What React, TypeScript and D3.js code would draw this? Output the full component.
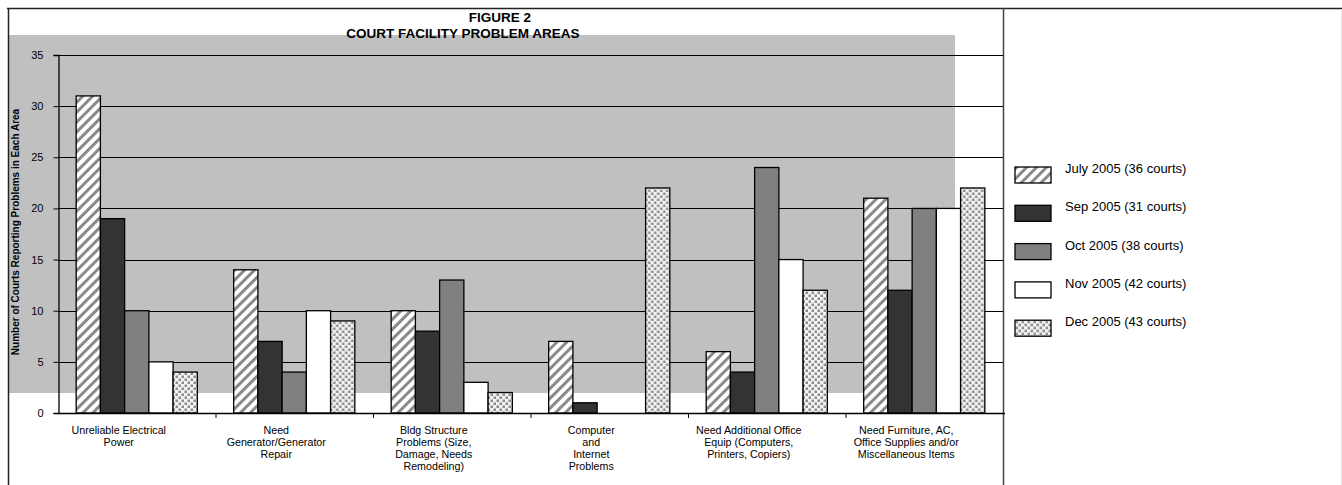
import React, { useEffect, useRef } from "react";
import * as d3 from "d3";

// chart values
const categories = [
  "Unreliable Electrical Power",
  "Need Generator/Generator Repair",
  "Bldg Structure Problems",
  "Computer and Internet Problems",
  "Need Additional Office Equip",
  "Need Furniture, AC, Office Supplies",
];

const categoryLines = [
  ["Unreliable Electrical", "Power"],
  ["Need", "Generator/Generator", "Repair"],
  ["Bldg Structure", "Problems (Size,", "Damage, Needs", "Remodeling)"],
  ["Computer", "and", "Internet", "Problems"],
  ["Need Additional Office", "Equip (Computers,", "Printers, Copiers)"],
  ["Need Furniture, AC,", "Office Supplies and/or", "Miscellaneous Items"],
];

const seriesNames = [
  "July 2005 (36 courts)",
  "Sep 2005 (31 courts)",
  "Oct 2005 (38 courts)",
  "Nov 2005 (42 courts)",
  "Dec 2005 (43 courts)",
];

const july2005 = [31, 14, 10, 7, 6, 21];
const sep2005 = [19, 7, 8, 1, 4, 12];
const oct2005 = [10, 4, 13, 0, 24, 20];
const nov2005 = [5, 10, 3, 0, 15, 20];
const dec2005 = [4, 9, 2, 22, 12, 22];

const seriesValues = [july2005, sep2005, oct2005, nov2005, dec2005];

const yTicks = [0, 5, 10, 15, 20, 25, 30, 35];

const titleLine1 = "FIGURE 2";
const titleLine2 = "COURT FACILITY PROBLEM AREAS";
const yTitle = "Number of Courts Reporting Problems in Each Area";

const fills = ["url(#stripes)", "#333333", "#808080", "#ffffff", "url(#dots)"];
const FONT = "'Liberation Sans', Arial, sans-serif";

export default function App() {
  const svgRef = useRef<SVGSVGElement>(null);

  useEffect(() => {
    const W = 1342;
    const H = 485;
    const left = 58;
    const right = 1003;
    const top = 55;
    const bottom = 413;

    const svg = d3.select(svgRef.current);
    svg.selectAll("*").remove();
    svg.attr("width", W).attr("height", H);

    const defs = svg.append("defs");
    const stripes = defs
      .append("pattern")
      .attr("id", "stripes")
      .attr("patternUnits", "userSpaceOnUse")
      .attr("width", 7)
      .attr("height", 7)
      .attr("patternTransform", "rotate(45)");
    stripes.append("rect").attr("width", 7).attr("height", 7).attr("fill", "#ffffff");
    stripes.append("rect").attr("x", 0).attr("width", 3).attr("height", 7).attr("fill", "#8a8a8a");

    const dots = defs
      .append("pattern")
      .attr("id", "dots")
      .attr("patternUnits", "userSpaceOnUse")
      .attr("width", 6)
      .attr("height", 6);
    dots.append("rect").attr("width", 6).attr("height", 6).attr("fill", "#f2f2f2");
    dots.append("rect").attr("x", 0.5).attr("y", 0.5).attr("width", 2.5).attr("height", 2.5).attr("fill", "#8c8c8c");
    dots.append("rect").attr("x", 3.5).attr("y", 3.5).attr("width", 2.5).attr("height", 2.5).attr("fill", "#8c8c8c");

    // gray plot background (as in the original, offset from the axes)
    svg.append("rect")
      .attr("x", 8).attr("y", 35)
      .attr("width", 955 - 8).attr("height", 393 - 35)
      .attr("fill", "#c0c0c0");

    // frame lines
    svg.append("line").attr("x1", 7).attr("x2", W).attr("y1", 8.5).attr("y2", 8.5)
      .attr("stroke", "#222").attr("stroke-width", 1.5);
    svg.append("line").attr("x1", 8.5).attr("x2", 8.5).attr("y1", 8).attr("y2", H)
      .attr("stroke", "#222").attr("stroke-width", 1.5);
    svg.append("line").attr("x1", 1003.5).attr("x2", 1003.5).attr("y1", 8).attr("y2", H)
      .attr("stroke", "#444").attr("stroke-width", 1.5);
    svg.append("line").attr("x1", 1341.5).attr("x2", 1341.5).attr("y1", 9).attr("y2", H)
      .attr("stroke", "#e6e6e6").attr("stroke-width", 1);

    const x0 = d3.scaleBand<string>().domain(categories).range([left, right]).padding(0);
    const x1 = d3.scaleBand<string>()
      .domain(seriesNames)
      .range([0, x0.bandwidth()])
      .paddingInner(0)
      .paddingOuter(0.75);
    const y = d3.scaleLinear().domain([0, 35]).range([bottom, top]);

    // gridlines
    svg.append("g")
      .selectAll("line")
      .data(yTicks.filter((t) => t > 0))
      .enter()
      .append("line")
      .attr("x1", left)
      .attr("x2", right)
      .attr("y1", (d) => Math.round(y(d)) + 0.5)
      .attr("y2", (d) => Math.round(y(d)) + 0.5)
      .attr("stroke", "#000")
      .attr("stroke-width", 1);

    // bars
    const groups = svg.append("g")
      .selectAll("g")
      .data(categories)
      .enter()
      .append("g")
      .attr("transform", (c) => `translate(${x0(c)},0)`);

    groups
      .selectAll("rect")
      .data((c, ci) => seriesNames.map((s, si) => ({ s, si, v: seriesValues[si][ci] })).filter((d) => d.v > 0))
      .enter()
      .append("rect")
      .attr("x", (d) => x1(d.s)!)
      .attr("width", x1.bandwidth())
      .attr("y", (d) => y(d.v))
      .attr("height", (d) => y(0) - y(d.v))
      .attr("fill", (d) => fills[d.si])
      .attr("stroke", "#000")
      .attr("stroke-width", 1.3);

    // y axis
    const yAxis = svg.append("g")
      .attr("transform", `translate(${left + 0.5},0)`)
      .call(d3.axisLeft(y).tickValues(yTicks).tickSize(5).tickPadding(10).tickFormat(d3.format("d")));
    yAxis.select(".domain").attr("stroke", "#000").attr("stroke-width", 1.3);
    yAxis.selectAll(".tick line").attr("stroke", "#000");
    yAxis.selectAll("text").attr("font-family", FONT).attr("font-size", 11).attr("fill", "#000");

    // x axis
    svg.append("line").attr("x1", left).attr("x2", right + 2).attr("y1", bottom + 0.5).attr("y2", bottom + 0.5)
      .attr("stroke", "#000").attr("stroke-width", 1.3);
    svg.append("g")
      .selectAll("line")
      .data(categories.slice(1))
      .enter()
      .append("line")
      .attr("x1", (c) => x0(c)! + 0.5)
      .attr("x2", (c) => x0(c)! + 0.5)
      .attr("y1", bottom)
      .attr("y2", bottom + 5)
      .attr("stroke", "#000");

    // category labels
    const labels = svg.append("g")
      .attr("font-family", FONT)
      .attr("font-size", 10.7)
      .attr("fill", "#000")
      .attr("text-anchor", "middle");
    categories.forEach((c, i) => {
      const cx = x0(c)! + x0.bandwidth() / 2 - 18;
      const t = labels.append("text").attr("x", cx).attr("y", 433.5);
      categoryLines[i].forEach((line, li) => {
        t.append("tspan").attr("x", cx).attr("dy", li === 0 ? 0 : 12).text(line);
      });
    });

    // y title
    svg.append("text")
      .attr("transform", `translate(19,${(top + bottom) / 2 - 2}) rotate(-90)`)
      .attr("text-anchor", "middle")
      .attr("font-family", FONT)
      .attr("font-weight", "bold")
      .attr("font-size", 10)
      .text(yTitle);

    // title
    svg.append("text")
      .attr("x", 500).attr("y", 22)
      .attr("text-anchor", "middle")
      .attr("font-family", FONT).attr("font-weight", "bold").attr("font-size", 13.5)
      .text(titleLine1);
    svg.append("text")
      .attr("x", 463).attr("y", 38)
      .attr("text-anchor", "middle")
      .attr("font-family", FONT).attr("font-weight", "bold").attr("font-size", 13.5)
      .text(titleLine2);

    // legend
    const legend = svg.append("g").attr("transform", "translate(1015,167)");
    const item = legend
      .selectAll("g")
      .data(seriesNames)
      .enter()
      .append("g")
      .attr("transform", (d, i) => `translate(0,${i * 38.3})`);
    item.append("rect")
      .attr("width", 36)
      .attr("height", 16)
      .attr("fill", (d, i) => fills[i])
      .attr("stroke", "#000")
      .attr("stroke-width", 1.3);
    item.append("text")
      .attr("x", 50)
      .attr("y", 6)
      .attr("font-family", FONT)
      .attr("font-size", 13)
      .attr("fill", "#000")
      .text((d) => d);
  }, []);

  return (
    <div style={{ position: "absolute", left: 0, top: 0 }}>
      <svg ref={svgRef} style={{ display: "block", background: "#fff" }}></svg>
    </div>
  );
}
